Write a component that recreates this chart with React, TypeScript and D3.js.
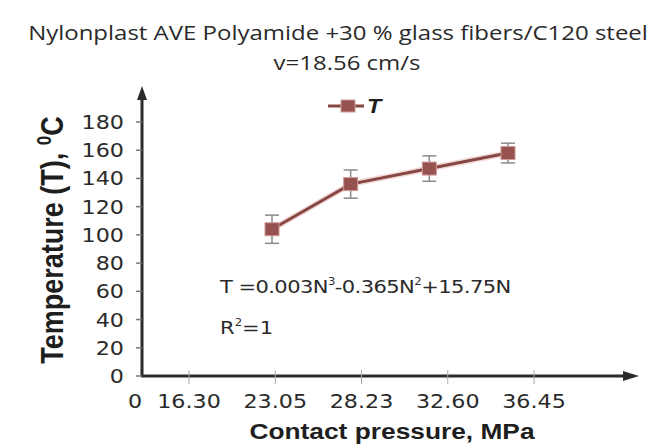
import React, { useEffect, useRef } from "react";
import * as d3 from "d3";

const tickLabels = ["16.30", "23.05", "28.23", "32.60", "36.45"];
const pressure = ["23.05", "28.23", "32.60", "36.45"];
const temperature = [104, 136, 147, 158];
const errors = [10, 10, 9, 7];
const yTicks = [0, 20, 40, 60, 80, 100, 120, 140, 160, 180];

const W = 652;
const H = 444;
// the source picture is stretched sideways, so the text is too
const SX = 1.17;

const App = () => {
  const ref = useRef<SVGSVGElement>(null);

  useEffect(() => {
    const svg = d3.select(ref.current);
    svg.selectAll("*").remove();

    const x0 = 142;
    const xEnd = 639;
    const y = d3.scaleLinear().domain([0, 180]).range([376, 122]);
    const xTick = d3.scalePoint().domain(tickLabels).range([189, 534]);
    const xPt = d3.scalePoint().domain(pressure).range([272, 508]);

    const ink = "#2b2b2b";
    const red = "#874744";

    const label = (x: number, yy: number, size: number, family: string, extra = "") =>
      svg
        .append("g")
        .attr("transform", `translate(${x},${yy}) scale(${SX},1) ${extra}`)
        .append("text")
        .style("font-family", family)
        .style("font-size", size + "px")
        .attr("fill", "#2a2a2a");

    // title
    label(338, 40, 20.5, "Open Sans").attr("text-anchor", "middle")
      .text("Nylonplast AVE Polyamide +30 % glass fibers/C120 steel");
    label(347, 70, 20.5, "Open Sans").attr("text-anchor", "middle").text("v=18.56 cm/s");

    // axes lines with arrows
    svg
      .append("line")
      .attr("x1", x0)
      .attr("x2", x0)
      .attr("y1", y(0))
      .attr("y2", 92)
      .attr("stroke", ink)
      .attr("stroke-width", 3);
    svg
      .append("path")
      .attr("d", `M${x0},86 L${x0 - 5},100 L${x0 + 5},100 Z`)
      .attr("fill", ink);
    svg
      .append("line")
      .attr("x1", x0 - 1)
      .attr("x2", xEnd - 8)
      .attr("y1", y(0))
      .attr("y2", y(0))
      .attr("stroke", ink)
      .attr("stroke-width", 3);
    svg
      .append("path")
      .attr("d", `M${xEnd},${y(0)} L${xEnd - 16},${y(0) - 5} L${xEnd - 16},${y(0) + 5} Z`)
      .attr("fill", ink);

    // y ticks
    svg
      .append("g")
      .selectAll("line")
      .data(yTicks)
      .enter()
      .append("line")
      .attr("x1", x0 - 6)
      .attr("x2", x0)
      .attr("y1", (d) => y(d))
      .attr("y2", (d) => y(d))
      .attr("stroke", "#777")
      .attr("stroke-width", 1.5);
    yTicks.forEach((d) => {
      label(124, y(d) + 7, 19, "DejaVu Sans").attr("text-anchor", "end").text(d);
    });

    // x ticks
    svg
      .append("g")
      .selectAll("line")
      .data(tickLabels)
      .enter()
      .append("line")
      .attr("x1", (d) => xTick(d)!)
      .attr("x2", (d) => xTick(d)!)
      .attr("y1", y(0) - 6)
      .attr("y2", y(0) + 8)
      .attr("stroke", "#aaa")
      .attr("stroke-width", 1);
    tickLabels.forEach((d) => {
      label(xTick(d)!, 408, 19, "DejaVu Sans").attr("text-anchor", "middle").text(d);
    });
    label(135, 408, 19, "DejaVu Sans").attr("text-anchor", "middle").text("0");

    // axis titles
    label(392, 439, 22.5, "Liberation Sans")
      .attr("text-anchor", "middle")
      .style("font-weight", "bold")
      .attr("fill", "#1e1e1e")
      .text("Contact pressure, MPa");
    const yl = label(63, 240, 27, "Liberation Sans", "rotate(-90)")
      .attr("text-anchor", "middle")
      .style("font-weight", "bold")
      .attr("fill", "#1e1e1e");
    yl.append("tspan").text("Temperature (T), ");
    yl.append("tspan").attr("dy", -10).style("font-size", "17px").text("0");
    yl.append("tspan").attr("dy", 10).text("C");

    // error bars
    const eb = svg.append("g").attr("stroke", "#8a8a8a").attr("stroke-width", 1.5);
    pressure.forEach((p, i) => {
      const cx = xPt(p)!;
      const t = y(temperature[i] + errors[i]);
      const b = y(temperature[i] - errors[i]);
      eb.append("line").attr("x1", cx).attr("x2", cx).attr("y1", t).attr("y2", b);
      eb.append("line").attr("x1", cx - 7).attr("x2", cx + 7).attr("y1", t).attr("y2", t);
      eb.append("line").attr("x1", cx - 7).attr("x2", cx + 7).attr("y1", b).attr("y2", b);
    });

    // line
    const line = d3
      .line<number>()
      .x((_, i) => xPt(pressure[i])!)
      .y((d) => y(d));
    svg
      .append("path")
      .datum(temperature)
      .attr("d", line)
      .attr("fill", "none")
      .attr("stroke", "#e8b4b2")
      .attr("stroke-width", 6)
      .attr("opacity", 0.5);
    svg
      .append("path")
      .datum(temperature)
      .attr("d", line)
      .attr("fill", "none")
      .attr("stroke", red)
      .attr("stroke-width", 3);

    // markers
    svg
      .selectAll("rect.m")
      .data(temperature)
      .enter()
      .append("rect")
      .attr("class", "m")
      .attr("x", (_, i) => xPt(pressure[i])! - 7)
      .attr("y", (d) => y(d) - 6.5)
      .attr("width", 14)
      .attr("height", 13)
      .attr("fill", "#95524f")
      .attr("stroke", "#cf9a97")
      .attr("stroke-width", 1);

    // legend
    svg
      .append("line")
      .attr("x1", 328)
      .attr("x2", 364)
      .attr("y1", 106)
      .attr("y2", 106)
      .attr("stroke", red)
      .attr("stroke-width", 3);
    svg
      .append("rect")
      .attr("x", 341)
      .attr("y", 100)
      .attr("width", 14)
      .attr("height", 12)
      .attr("fill", "#95524f")
      .attr("stroke", "#cf9a97");
    label(367, 113, 20, "Liberation Sans")
      .style("font-weight", "bold")
      .style("font-style", "italic")
      .attr("fill", "#1e1e1e")
      .text("T");

    // equation
    const eq = label(220, 293, 18, "DejaVu Sans").style("letter-spacing", "-0.5px");
    eq.append("tspan").text("T =0.003N");
    eq.append("tspan").attr("dy", -8).style("font-size", "10px").text("3");
    eq.append("tspan").attr("dy", 8).text("-0.365N");
    eq.append("tspan").attr("dy", -8).style("font-size", "10px").text("2");
    eq.append("tspan").attr("dy", 8).text("+15.75N");

    const r2 = label(220, 334, 18, "DejaVu Sans");
    r2.append("tspan").text("R");
    r2.append("tspan").attr("dy", -8).style("font-size", "10px").text("2");
    r2.append("tspan").attr("dy", 8).text("=1");
  }, []);

  return (
    <svg
      ref={ref}
      width={W}
      height={H}
      style={{ position: "absolute", left: 0, top: 0, background: "#fff" }}
    ></svg>
  );
};

export default App;
